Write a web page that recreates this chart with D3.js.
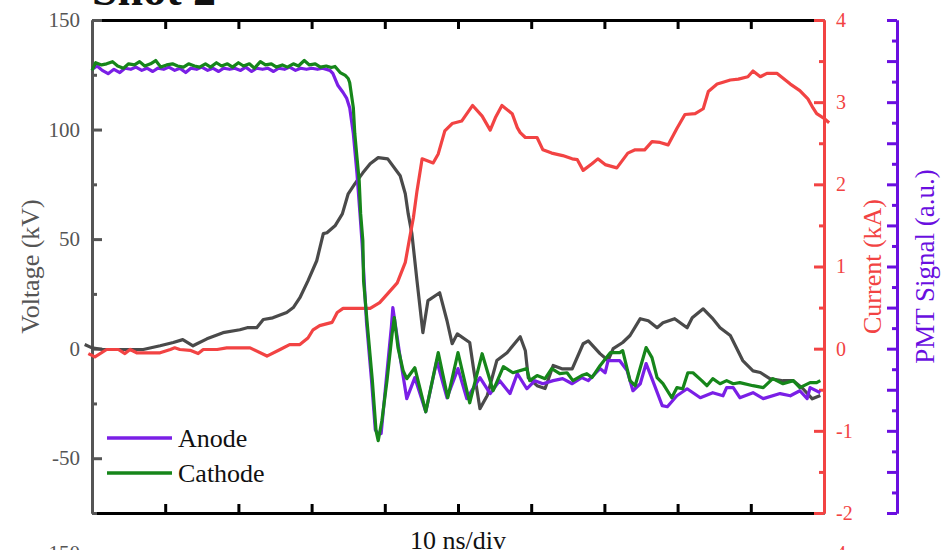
<!DOCTYPE html>
<html>
<head>
<meta charset="utf-8">
<script src="https://cdn.jsdelivr.net/npm/d3@7"></script>
<style>
  body { margin: 0; background: #fff; }
  svg { display: block; }
</style>
</head>
<body>
<svg id="chart" width="942" height="550"></svg>
<script>
// time in ns (10 ns/div), voltage in kV
const anode = [
  [0,127.5],[0.7,129],[1.4,127],[2.2,125.5],[3,127.5],[3.8,126],[4.5,128],[5.3,127.5],[6,128.5],[6.8,127],
  [7.5,128],[8.3,126.5],[9,128],[9.8,127.5],[10.5,128.5],[11.3,127],[12,128],[12.8,126],[13.5,128],[14.3,127.5],
  [15,128.5],[15.8,127],[16.5,128],[17.3,126.5],[18,128],[18.8,127.5],[19.5,128],[20.3,127],[21,128.5],[21.8,126.5],
  [22.5,128],[23.3,127.5],[24,128],[24.8,126.5],[25.5,128],[26.3,127.5],[27,128.5],[27.8,127],[28.5,128],[29.3,127.5],
  [30,128],[30.8,127.5],[31.5,128],[32.5,127],[32.9,125.6],[33.6,120.1],[34.3,116.9],[34.8,114.2],[35.2,110],[35.7,98.2],
  [36.2,79.9],[36.6,62],[36.9,48],[37.5,12],[38.2,-15],[38.7,-37],[39.1,-38.8],[39.5,-38.8],[40.2,-14],[40.9,10],
  [41.1,18.7],[42.1,-4],[43,-22.8],[44.1,-13.2],[45.6,-28.8],[47.1,-5.5],[48.5,-22.4],[50,-9.1],[51.2,-22.8],[53,-13.2],
  [54.4,-20.5],[55.7,-14.6],[57.1,-20.5],[58.1,-11.4],[59.4,-18.3],[60.5,-14.6],[61.6,-16],[63,-14.6],[64.3,-13.7],[65.6,-16],
  [66.9,-13.2],[67.8,-14.6],[69.4,-9.1],[70.1,-11],[70.5,-5.5],[72.1,-5.5],[73.1,-10],[73.9,-19.2],[74.9,-16],[75.7,-6.8],
  [76.6,-14.6],[77.9,-26],[78.6,-26.5],[79.9,-21.5],[81.3,-18.3],[83.1,-22.4],[84.8,-20.1],[86.2,-21.5],[86.7,-17.8],[87.6,-17.8],
  [88.5,-22.4],[90.3,-20.1],[91.7,-22.8],[94,-20.5],[95.4,-21.5],[96.7,-19.2],[97.7,-22.8],[98.1,-17.8],[99.5,-20.1]
]

const cathode = [
  [0,127],[0.5,130.5],[1.3,129.5],[2,130],[2.8,131],[3.5,129],[4.3,128],[5,130],[5.8,129.5],[6.5,131],
  [7.2,129],[8,130],[8.7,131.5],[9.4,128.5],[10.2,129.5],[11,130],[11.7,129],[12.5,128.5],[13.2,130],[14,129],
  [14.7,128.5],[15.5,130],[16.2,128.5],[17,130.5],[17.7,129],[18.5,130],[19.2,128.5],[20,130.5],[20.7,129],[21.5,130],
  [22.2,128],[23,131],[23.7,129.5],[24.5,130],[25.2,128.5],[26,129.5],[26.7,128.5],[27.5,130],[28.2,129],[29,131.5],
  [29.7,129.5],[30.5,130],[31.2,128.5],[32,129],[32.7,128.3],[33.2,128.8],[33.9,126],[34.6,124.7],[35,123.3],[35.2,121.5],
  [35.7,110],[35.9,98.2],[36.2,87.2],[36.5,76.7],[36.7,61.6],[37,49.3],[37.1,31],[37.6,11.4],[38.3,-14.6],[38.8,-37.4],
  [39.1,-42],[39.6,-32.9],[40.3,-14.6],[41,6.8],[41.3,14.2],[41.8,0.5],[42.5,-10],[43,-13.7],[44.1,-8.7],[45.6,-28.8],
  [47.3,-1.8],[48.6,-22.4],[50,-1.8],[51.6,-24.7],[53.3,-2.3],[54.8,-19.2],[56.2,-8.2],[57.5,-11],[59.4,-9.1],[59.8,-14.6],
  [60.8,-12.3],[61.9,-13.7],[62.8,-9.1],[63.9,-11.4],[64.9,-11],[65.7,-14.6],[66.9,-12.3],[67.6,-11.4],[68.3,-13.2],[69.4,-7.8],
  [70.8,-1.8],[72.1,-1.8],[72.5,-0.9],[73.5,-14.6],[74.2,-16.9],[74.9,-8.7],[75.7,0.5],[76.5,-4.1],[77.2,-13.2],[78,-16],
  [79.2,-22.4],[79.9,-17.8],[80.7,-18.3],[81.4,-11],[82.1,-11],[83.3,-14.6],[84,-16.9],[84.8,-13.7],[85.8,-16],[86.7,-14.6],
  [87.6,-16],[88.5,-15.5],[90.3,-16.9],[91.7,-17.8],[93,-13.7],[94.4,-16],[95.8,-14.6],[96.7,-17.8],[98.1,-15.5],[99,-15.5],
  [99.5,-14.6]
]

// current in kA
const current = [
  [-0.5,-0.06],[0.4,-0.1],[2,-0.01],[3.6,-0.01],[4.5,-0.06],[5.2,-0.01],[6.1,-0.05],[9.3,-0.05],[10.7,-0.01],[11.3,0.01],
  [12,-0.01],[13.4,-0.02],[14.5,-0.06],[15.2,-0.01],[17.1,-0.01],[18.4,0.01],[21.6,0.01],[23.9,-0.09],[25.7,-0.01],[27,0.05],
  [28.4,0.05],[29.5,0.13],[30.2,0.23],[31.1,0.28],[32.8,0.32],[33.5,0.44],[34.3,0.49],[38,0.49],[39.3,0.56],[40.4,0.67],
  [41.7,0.8],[42.8,1.05],[43.4,1.35],[43.9,1.59],[44.4,1.92],[45.1,2.31],[46.6,2.26],[47.3,2.37],[48.2,2.65],[49.2,2.74],
  [50.5,2.77],[52,2.96],[53.3,2.83],[54.4,2.66],[55.1,2.81],[56,2.96],[57.4,2.86],[58.1,2.69],[58.5,2.63],[59.2,2.57],
  [60.8,2.57],[61.6,2.42],[62.8,2.38],[64.3,2.35],[65.6,2.31],[66.3,2.3],[67.1,2.17],[68.3,2.25],[69.1,2.31],[70.1,2.24],
  [71.7,2.2],[73.2,2.38],[74.2,2.42],[75.5,2.42],[76.5,2.52],[77.6,2.51],[78.7,2.48],[79.9,2.68],[81,2.85],[82.4,2.86],
  [83.5,2.92],[84.2,3.13],[85.4,3.22],[86.1,3.24],[87.2,3.27],[88.3,3.28],[89.6,3.31],[90.3,3.38],[91.3,3.31],[92.2,3.35],
  [93.6,3.35],[95.4,3.22],[96.7,3.14],[97.8,3.04],[98.5,2.93],[99,2.86],[99.9,2.81],[100.7,2.75]
]

// PMT signal, arbitrary units
const pmt = [
  [-1,0.1],[0,0.02],[1.5,-0.02],[7,-0.02],[9.3,0.07],[11.1,0.15],[12.4,0.22],[13.8,0.07],[15.7,0.24],[17.9,0.39],
  [20.2,0.46],[21.2,0.51],[22.5,0.51],[23.4,0.71],[24.7,0.75],[26.6,0.88],[27.5,1.0],[28.4,1.24],[29.5,1.65],[30.7,2.14],
  [31.6,2.8],[32.1,2.82],[33.2,2.99],[34.2,3.28],[35,3.77],[35.9,4.01],[37,4.28],[38,4.5],[39.1,4.65],[40.4,4.62],
  [42.1,4.21],[42.8,3.77],[43.2,3.28],[43.7,2.8],[44.4,1.65],[45.2,0.39],[45.9,1.17],[47.5,1.36],[48.5,0.68],[49.2,0.12],
  [49.9,0.36],[51.6,0.15],[52.1,-0.46],[53,-1.46],[54,-1.14],[55.3,-0.29],[56.7,-0.1],[58.5,0.29],[59.2,-0.05],[59.6,-0.71],
  [60.8,-0.9],[61.9,-0.97],[63,-0.41],[64.2,-0.49],[65.6,-0.49],[67.1,0.12],[67.8,0.19],[69.4,-0.12],[70.5,-0.29],[71.2,0],
  [72.5,0.15],[73.5,0.32],[74.9,0.73],[76,0.68],[77.2,0.51],[78,0.63],[79.6,0.73],[81.3,0.51],[82,0.75],[83.5,0.97],
  [84.7,0.75],[85.8,0.51],[87.2,0.32],[88.9,-0.29],[90.3,-0.54],[91.3,-0.58],[92.6,-0.73],[94.4,-0.78],[95.8,-0.78],[97.1,-0.97],
  [98.4,-1.22],[99.5,-1.14]
]

const voltTicks = [-50, 0, 50, 100, 150]
const voltMinor = [-75, -25, 25, 75, 125]
const currTicks = [-2, -1, 0, 1, 2, 3, 4]
const currMinor = [-1.5, -0.5, 0.5, 1.5, 2.5, 3.5]
const pmtTicks = d3.range(-4, 9, 1)
const pmtMinor = d3.range(-3.5, 8, 1)
const timeTicks = [10, 20, 30, 40, 50, 60, 70, 80, 90]

const legendItems = [
  { name: "Anode",   color: "#7a1fe6" },
  { name: "Cathode", color: "#16861a" }
]

const font = "'Liberation Serif', 'Times New Roman', serif"
const colors = { anode: "#7a1fe6", cathode: "#16861a", current: "#f24343", pmt: "#4a4a4a", pmtAxis: "#6a0fe0", left: "#555" }

const svg = d3.select("#chart")
  .style("font-family", font)

// plot frame
const frame = { left: 92, right: 824, top: 20, bottom: 513 }

const x = d3.scaleLinear().domain([0, 100]).range([frame.left, frame.right])
const yV = d3.scaleLinear().domain([-75, 150]).range([frame.bottom, frame.top])
const yI = d3.scaleLinear().domain([-2, 4]).range([frame.bottom, frame.top])
const yP = d3.scaleLinear().domain([-4, 8]).range([frame.bottom, frame.top])

const styleAxis = (g, color, size) => {
  g.selectAll("path.domain").attr("stroke", color).attr("stroke-width", 3)
  g.selectAll(".tick line").attr("stroke", color).attr("stroke-width", 3)
  g.selectAll(".tick text").attr("fill", color).attr("font-size", size).attr("font-family", font)
}

// top and bottom (time) axes
svg.append("g")
    .attr("transform", `translate(0,${frame.bottom})`)
    .call(d3.axisBottom(x).tickValues(timeTicks).tickSizeInner(-9).tickSizeOuter(0).tickFormat(""))
    .call(g => styleAxis(g, "#000", 20))
svg.append("g")
    .attr("transform", `translate(0,${frame.top})`)
    .call(d3.axisTop(x).tickValues(timeTicks).tickSizeInner(-9).tickSizeOuter(0).tickFormat(""))
    .call(g => styleAxis(g, "#000", 20))

// left voltage axis
svg.append("g")
    .attr("transform", `translate(${frame.left},0)`)
    .call(d3.axisLeft(yV).tickValues(voltMinor).tickSizeInner(-5).tickSizeOuter(0).tickFormat(""))
    .call(g => styleAxis(g, colors.left, 21))
svg.append("g")
    .attr("transform", `translate(${frame.left},0)`)
    .call(d3.axisLeft(yV).tickValues(voltTicks).tickSizeInner(-10).tickSizeOuter(0).tickPadding(12).tickFormat(d => String(d)))
    .call(g => styleAxis(g, colors.left, 21))

// right current axis
svg.append("g")
    .attr("transform", `translate(${frame.right},0)`)
    .call(d3.axisRight(yI).tickValues(currMinor).tickSizeInner(-5).tickSizeOuter(0).tickFormat(""))
    .call(g => styleAxis(g, colors.current, 20))
svg.append("g")
    .attr("transform", `translate(${frame.right},0)`)
    .call(d3.axisRight(yI).tickValues(currTicks).tickSizeInner(-10).tickSizeOuter(0).tickPadding(12).tickFormat(d => String(d)))
    .call(g => styleAxis(g, colors.current, 20))

// offset PMT axis, no labels
svg.append("g")
    .attr("transform", "translate(897,0)")
    .call(d3.axisRight(yP).tickValues(pmtMinor).tickSizeInner(-5).tickSizeOuter(0).tickFormat(""))
    .call(g => styleAxis(g, colors.pmtAxis, 20))
svg.append("g")
    .attr("transform", "translate(897,0)")
    .call(d3.axisRight(yP).tickValues(pmtTicks).tickSizeInner(-10).tickSizeOuter(0).tickFormat(""))
    .call(g => styleAxis(g, colors.pmtAxis, 20))

// traces
const lineOf = (y) => d3.line().x(d => x(d[0])).y(d => y(d[1]))
const traces = [
  { data: pmt,     y: yP, color: colors.pmt },
  { data: current, y: yI, color: colors.current },
  { data: anode,   y: yV, color: colors.anode },
  { data: cathode, y: yV, color: colors.cathode }
]
svg.append("g").selectAll("path")
    .data(traces)
  .enter().append("path")
    .attr("d", d => lineOf(d.y)(d.data))
    .attr("fill", "none")
    .attr("stroke", d => d.color)
    .attr("stroke-width", 3.2)
    .attr("stroke-linejoin", "round")

// legend
const legend = svg.append("g").selectAll("g")
    .data(legendItems)
  .enter().append("g")
    .attr("transform", (d, i) => `translate(107,${438 + i * 35})`)
legend.append("line")
    .attr("x1", 0).attr("x2", 65)
    .attr("stroke", d => d.color)
    .attr("stroke-width", 3.5)
legend.append("text")
    .attr("x", 71).attr("y", 9)
    .attr("font-size", 26)
    .attr("fill", "#111")
    .text(d => d.name)

// axis titles
const midY = (frame.top + frame.bottom) / 2
svg.append("text")
    .attr("transform", `translate(39,${midY}) rotate(-90)`)
    .attr("text-anchor", "middle")
    .attr("font-size", 26)
    .attr("fill", colors.left)
    .text("Voltage (kV)")
svg.append("text")
    .attr("transform", `translate(881,${midY}) rotate(-90)`)
    .attr("text-anchor", "middle")
    .attr("font-size", 26)
    .attr("fill", colors.current)
    .text("Current (kA)")
svg.append("text")
    .attr("transform", `translate(934,${midY}) rotate(-90)`)
    .attr("text-anchor", "middle")
    .attr("font-size", 27)
    .attr("fill", colors.pmtAxis)
    .text("PMT Signal (a.u.)")
svg.append("text")
    .attr("x", (frame.left + frame.right) / 2).attr("y", 549)
    .attr("text-anchor", "middle")
    .attr("font-size", 26)
    .attr("fill", "#111")
    .text("10 ns/div")

// panel title, mostly cut off at the top
svg.append("text")
    .attr("x", 92).attr("y", 5)
    .attr("font-size", 46)
    .attr("font-weight", "bold")
    .attr("fill", "#111")
    .text("Shot 2")

// top of the next panel's labels, cut off at the bottom
svg.append("text")
    .attr("x", 80).attr("y", 560)
    .attr("text-anchor", "end")
    .attr("font-size", 21)
    .attr("fill", colors.left)
    .text("150")
svg.append("text")
    .attr("x", 836).attr("y", 560)
    .attr("font-size", 20)
    .attr("fill", colors.current)
    .text("4")
</script>
</body>
</html>
